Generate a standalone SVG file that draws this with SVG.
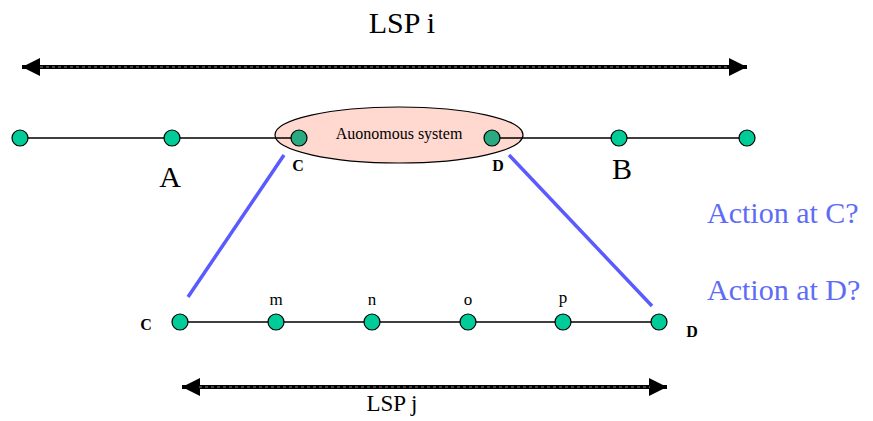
<svg xmlns="http://www.w3.org/2000/svg" width="873" height="421" viewBox="0 0 873 421">
<style>
.node{fill:#00cc99;stroke:#000;stroke-width:1.2}
.inner{fill:#2aaa80;stroke:#000;stroke-width:1.2}
.link{stroke:#000;stroke-width:1.5;fill:none}
.blue{stroke:#5a5aff;stroke-width:3.5}
.lsp{stroke:#000;stroke-width:4}
.dash{stroke:#ddd;stroke-width:0.6;stroke-dasharray:3 3}
.t{font-family:"Liberation Serif","Times New Roman",serif;fill:#000}
.big{font-size:30px}
.lbl{font-size:16px;font-weight:bold}
.small{font-size:17px}
.act{font-size:30px;fill:#5e6cf5}
</style>
<defs>
<marker id="ah" viewBox="0 0 10 10" refX="10" refY="5" markerWidth="4.6" markerHeight="4.6" orient="auto-start-reverse" markerUnits="strokeWidth">
<path d="M0,0 L10,5 L0,10 z" fill="#000"/>
</marker>
</defs>
<rect width="873" height="421" fill="#fff"/>
<g id="connectors">
<line class="lsp" x1="22" y1="67" x2="747" y2="67" marker-start="url(#ah)" marker-end="url(#ah)"/>
<line class="dash" x1="40" y1="67" x2="730" y2="67"/>
<line class="link" x1="20" y1="138" x2="747" y2="138"/>
<line class="blue" x1="284" y1="155" x2="188" y2="297"/>
<line class="blue" x1="509" y1="155" x2="652" y2="306"/>
<line class="link" x1="180" y1="322" x2="659" y2="322"/>
<line class="lsp" x1="182" y1="387" x2="667" y2="387" marker-start="url(#ah)" marker-end="url(#ah)"/>
<line class="dash" x1="199" y1="387" x2="650" y2="387"/>
</g>
<g id="lsp-i-label"><text class="t big" x="402" y="33" text-anchor="middle">LSP i</text></g>
<g id="as">
<ellipse cx="399" cy="135" rx="124" ry="28" fill="#ffd8d0" stroke="#000" stroke-width="1.2"/>
<line class="link" x1="275" y1="138" x2="299" y2="138"/>
<line class="link" x1="492" y1="138" x2="523" y2="138"/>
<text class="t" x="399" y="139" font-size="16" text-anchor="middle">Auonomous system</text>
</g>
<g id="n1"><circle class="node" cx="20" cy="138" r="8"/></g>
<g id="nA"><circle class="node" cx="172" cy="138" r="8"/><text class="t big" x="170" y="187" text-anchor="middle">A</text></g>
<g id="nC"><circle class="inner" cx="299" cy="138" r="8"/><text class="t lbl" x="298" y="171" text-anchor="middle">C</text></g>
<g id="nD"><circle class="inner" cx="492" cy="138" r="8"/><text class="t lbl" x="498" y="171" text-anchor="middle">D</text></g>
<g id="nB"><circle class="node" cx="619" cy="138" r="8"/><text class="t big" x="622" y="179" text-anchor="middle">B</text></g>
<g id="n6"><circle class="node" cx="747" cy="138" r="8"/></g>
<g id="bC"><circle class="node" cx="180" cy="322" r="8"/><text class="t lbl" x="146" y="330" text-anchor="middle">C</text></g>
<g id="bm"><circle class="node" cx="276" cy="322" r="8"/><text class="t small" x="276" y="305" text-anchor="middle">m</text></g>
<g id="bn"><circle class="node" cx="372" cy="322" r="8"/><text class="t small" x="372" y="305" text-anchor="middle">n</text></g>
<g id="bo"><circle class="node" cx="468" cy="322" r="8"/><text class="t small" x="468" y="305" text-anchor="middle">o</text></g>
<g id="bp"><circle class="node" cx="563" cy="322" r="8"/><text class="t small" x="563" y="303" text-anchor="middle">p</text></g>
<g id="bD"><circle class="node" cx="659" cy="322" r="8"/><text class="t lbl" x="692" y="337" text-anchor="middle">D</text></g>
<g id="lsp-j-label"><text class="t" x="392" y="411" font-size="23" text-anchor="middle">LSP j</text></g>
<g id="actions">
<text class="t act" x="707" y="223">Action at C?</text>
<text class="t act" x="707" y="300">Action at D?</text>
</g>
</svg>
